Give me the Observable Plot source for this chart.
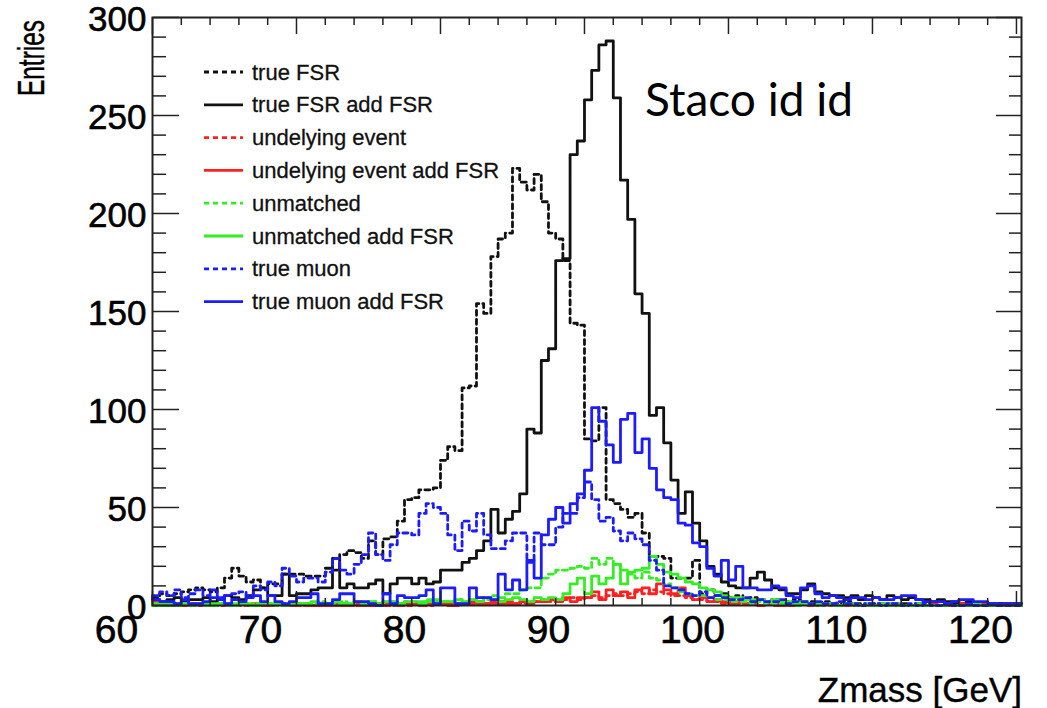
<!DOCTYPE html>
<html><head><meta charset="utf-8">
<script src="https://cdn.jsdelivr.net/npm/d3@7"></script>
<script src="https://cdn.jsdelivr.net/npm/@observablehq/plot@0.6"></script>
<style>
html,body{margin:0;padding:0;background:#fff;}
#wrap{position:relative;width:1047px;height:708px;overflow:hidden;background:#fff;}
#wrap svg{position:absolute;left:0;top:0;}
</style></head><body><div id="wrap"></div>
<script>
// ---- histogram binning (Zmass, GeV) ----
const binStart = 60;
const binWidth = 0.5;

// ---- series values, one per 0.5 GeV bin from 60.0 to 119.5 ----
const trueFSR = [
  4,6,5,6,7,8,9,8,7,9,
  14,19,15,12,13,9,11,11,16,16,
  16,15,15,15,19,18,26,28,27,24,
  33,26,34,35,43,54,55,59,59,60,
  74,81,79,111,112,154,149,178,187,190,
  223,216,212,220,206,190,187,176,144,143,
  85,84,101,54,52,49,45,47,37,25,
  25,24,14,14,14,23,6,8,5,6,
  4,5,3,4,3,2,3,2,2,3,
  1,2,1,2,1,1,2,1,1,0,
  1,1,0,1,1,0,1,0,1,0,
  0,1,0,0,1,0,0,1,0,0
];
const trueFSRAdd = [
  3,2,3,4,2,3,3,4,2,3,
  5,4,3,5,8,9,5,5,16,5,
  6,6,8,9,9,24,9,11,9,9,
  11,13,6,11,14,14,11,14,11,12,
  18,18,18,22,24,28,33,49,37,44,
  48,57,90,88,125,131,176,177,230,237,
  258,273,286,288,259,217,197,159,149,97,
  101,83,64,47,58,42,33,20,16,12,
  10,9,9,14,17,13,9,8,6,6,
  8,11,7,6,5,5,4,5,3,5,
  4,3,5,4,3,4,3,3,2,3,
  2,2,1,2,1,1,1,1,1,1
];
const ue = [
  2,1,1,0,1,1,0,1,0,0,
  1,0,0,1,0,1,0,0,1,0,
  0,1,0,0,1,0,1,0,0,1,
  0,0,1,0,1,0,1,1,0,1,
  1,1,0,1,1,2,1,1,2,1,
  1,1,2,2,3,2,3,3,4,3,
  4,5,4,5,6,5,6,7,6,8,
  7,6,5,5,4,3,3,2,2,1,
  2,1,1,1,0,1,0,1,0,0,
  1,0,0,0,1,0,0,0,0,1,
  0,0,0,1,0,0,0,0,0,0,
  0,0,1,0,0,0,0,0,0,0
];
const ueAdd = [
  1,1,0,1,0,0,1,0,0,1,
  0,0,1,0,1,0,0,1,0,0,
  1,0,0,1,0,1,0,0,1,0,
  0,1,0,1,0,1,1,0,1,1,
  1,0,1,1,2,1,1,2,1,2,
  1,2,1,2,2,3,2,4,2,4,
  4,7,3,8,5,7,4,8,9,6,
  11,8,6,9,5,3,4,2,3,2,
  1,2,1,1,0,1,1,0,1,0,
  1,0,0,1,0,0,0,1,0,0,
  0,0,1,0,0,0,0,0,1,0,
  0,0,0,0,0,1,0,0,0,0
];
const unmatched = [
  0,1,0,1,1,0,1,0,1,1,
  0,1,1,0,1,1,1,0,1,1,
  1,1,1,2,1,1,2,1,2,1,
  2,1,2,2,1,2,2,2,3,2,
  2,2,3,2,3,4,3,5,4,6,
  6,8,9,9,14,16,18,18,19,20,
  19,24,21,24,21,18,16,14,17,14,
  13,11,9,7,6,5,5,4,3,3,
  2,2,2,1,2,1,1,1,1,0,
  1,1,0,1,0,0,1,0,0,0,
  0,0,1,0,0,0,0,0,0,0,
  0,0,0,0,0,0,1,0,0,0
];
const unmatchedAdd = [
  1,0,1,0,1,0,1,1,0,1,
  1,0,1,1,0,1,1,1,0,1,
  1,1,2,1,1,2,1,1,2,1,
  2,1,2,2,1,2,2,1,2,3,
  2,2,3,2,3,2,4,3,2,3,
  4,3,2,4,3,4,3,6,11,14,
  6,15,11,14,21,11,17,18,19,25,
  21,17,16,14,12,11,9,8,7,5,
  4,4,3,3,3,2,3,2,2,1,
  2,1,1,1,1,0,1,1,0,1,
  0,1,0,1,0,0,1,0,0,0,
  1,0,0,0,1,0,0,0,0,0
];
const trueMuon = [
  5,7,5,8,4,6,8,5,8,3,
  5,6,7,5,10,8,12,10,19,15,
  12,14,14,12,17,24,18,16,21,26,
  37,26,23,31,37,37,36,47,52,50,
  47,36,28,43,38,47,36,29,29,33,
  37,37,22,37,31,31,40,47,47,55,
  63,54,43,45,38,33,37,34,31,23,
  18,10,9,8,6,5,7,4,5,4,
  3,3,4,2,3,2,2,3,1,2,
  2,1,2,1,1,2,1,1,0,1,
  1,0,1,1,0,1,0,1,0,0,
  1,0,0,1,0,0,1,0,0,0
];
const trueMuonAdd = [
  3,2,2,1,3,1,1,2,4,4,
  1,3,2,4,5,2,5,2,1,2,
  4,4,6,1,1,3,6,6,2,2,
  1,0,6,1,5,4,4,5,8,1,
  9,9,1,1,9,4,4,3,16,8,
  13,8,23,14,36,44,50,42,52,57,
  69,101,94,82,73,95,98,78,85,70,
  59,55,54,42,41,32,30,19,15,23,
  13,20,9,9,8,8,10,9,5,4,
  9,10,6,4,5,4,3,4,4,3,
  4,3,3,4,5,5,3,2,2,2,
  1,2,3,3,2,2,1,1,1,1
];

// ---- series names / styles (legend order = draw order) ----
const seriesNames = ["true FSR","true FSR add FSR","undelying event","undelying event add FSR","unmatched","unmatched add FSR","true muon","true muon add FSR"];
const seriesValues = [trueFSR, trueFSRAdd, ue, ueAdd, unmatched, unmatchedAdd, trueMuon, trueMuonAdd];
const seriesColors = ["#111111","#111111","#ff2020","#ff2020","#33ee22","#33ee22","#1c1cff","#1c1cff"];
const seriesDashed = [true,false,true,false,true,false,true,false];

// ---- axis ticks ----
const xMajor = [60,70,80,90,100,110,120];
const xMinor = [62,64,66,68,72,74,76,78,82,84,86,88,92,94,96,98,102,104,106,108,112,114,116,118];
const yMajor = [0,50,100,150,200,250,300];
const yMinor = [10,20,30,40,60,70,80,90,110,120,130,140,160,170,180,190,210,220,230,240,260,270,280,290];

const annotation = "Staco id id";
const xTitle = "Zmass [GeV]";
const yTitle = "Entries";

// build step data; last bin is carried to the frame edge
const xMax = 120.35;
function stepRows(vals){
  const rows = vals.map((v,i)=>({x: binStart + i*binWidth, y: v}));
  rows.push({x: xMax, y: vals[vals.length-1]});
  return rows;
}

const lineMarks = seriesValues.map((vals,k)=>Plot.line(stepRows(vals), {
  x:"x", y:"y", curve:"step-after",
  stroke: seriesColors[k], strokeWidth: 2.8,
  strokeDasharray: seriesDashed[k] ? "5,4" : null
}));

const axisStroke = "#222";
const chart = Plot.plot({
  width: 1047, height: 708,
  marginLeft: 152, marginRight: 26, marginTop: 17, marginBottom: 103,
  x: {domain: [60, xMax]},
  y: {domain: [0, 300]},
  style: {fontFamily: "'Liberation Sans', Arial, Helvetica, sans-serif", color: "#000", background: "transparent"},
  marks: [
    ...lineMarks,
    Plot.frame({stroke: axisStroke, strokeWidth: 2}),
    Plot.axisX({anchor:"top", frameAnchor:"bottom", ticks: xMajor, tickSize: 15, fill:"none", stroke: axisStroke, strokeWidth: 1.5, label: null}),
    Plot.axisX({anchor:"top", frameAnchor:"bottom", ticks: xMinor, tickSize: 8, fill:"none", stroke: axisStroke, strokeWidth: 1.5, label: null}),
    Plot.axisX({anchor:"bottom", frameAnchor:"top", ticks: xMajor, tickSize: 17, fill:"none", stroke: axisStroke, strokeWidth: 1.5, label: null}),
    Plot.axisX({anchor:"bottom", frameAnchor:"top", ticks: xMinor, tickSize: 8, fill:"none", stroke: axisStroke, strokeWidth: 1.5, label: null}),
    Plot.axisY({anchor:"right", frameAnchor:"left", ticks: yMajor, tickSize: 26, fill:"none", stroke: axisStroke, strokeWidth: 1.5, label: null}),
    Plot.axisY({anchor:"right", frameAnchor:"left", ticks: yMinor, tickSize: 13, fill:"none", stroke: axisStroke, strokeWidth: 1.5, label: null}),
    Plot.axisY({anchor:"left", frameAnchor:"right", ticks: yMajor, tickSize: 25, fill:"none", stroke: axisStroke, strokeWidth: 1.5, label: null}),
    Plot.axisY({anchor:"left", frameAnchor:"right", ticks: yMinor, tickSize: 12, fill:"none", stroke: axisStroke, strokeWidth: 1.5, label: null}),
    Plot.axisX({anchor:"bottom", ticks: xMajor, tickSize: 0, tickPadding: 10, dx: -36, fontSize: 39, label: null, tickFormat: d => String(d), fill: "#000", textStroke: "#000", textStrokeWidth: 0.6, ariaLabel: "x-axis tick label"}),
    Plot.axisY({anchor:"left", ticks: yMajor, tickSize: 0, tickPadding: 6, dy: 2, fontSize: 35, label: null, tickFormat: d => String(d), fill: "#000", textStroke: "#000", textStrokeWidth: 0.6})
  ]
});
document.getElementById("wrap").appendChild(chart);

// the x tick labels of the reference are drawn wider than their height
d3.select(chart).selectAll('g[aria-label="x-axis tick label"] text').each(function(){
  const t = d3.select(this);
  const n = t.text().length;
  t.attr("textLength", n * 26.5).attr("lengthAdjust", "spacingAndGlyphs");
});

// ---- overlay: titles, legend, annotation ----
const ov = d3.select("#wrap").append("svg").attr("width",1047).attr("height",708)
  .style("pointer-events","none")
  .style("font-family","'Liberation Sans', Arial, Helvetica, sans-serif");

ov.append("text").attr("transform","translate(44,96) rotate(-90)")
  .attr("text-anchor","start").attr("font-size",36)
  .attr("textLength",76).attr("lengthAdjust","spacingAndGlyphs")
  .attr("fill","#000").attr("stroke","#000").attr("stroke-width",0.4).text(yTitle);
ov.append("text").attr("x",1022).attr("y",702)
  .attr("text-anchor","end").attr("font-size",35).attr("fill","#000")
  .attr("stroke","#000").attr("stroke-width",0.4).text(xTitle);
ov.append("text").attr("x",645).attr("y",116)
  .attr("font-family","Lato, 'Open Sans', sans-serif").attr("font-size",46).attr("fill","#000").text(annotation);

const legRowY0 = 72, legRowStep = 32.8;
seriesNames.forEach((name,k)=>{
  const cy = legRowY0 + k*legRowStep;
  ov.append("line").attr("x1",204).attr("x2",243).attr("y1",cy).attr("y2",cy)
    .attr("stroke",seriesColors[k]).attr("stroke-width",2.8)
    .attr("stroke-dasharray", seriesDashed[k] ? "5,4" : null);
  ov.append("text").attr("x",252).attr("y",cy+7.5).attr("font-size",22)
    .attr("fill","#111").attr("stroke","#111").attr("stroke-width",0.3).text(name);
});
</script></body></html>
